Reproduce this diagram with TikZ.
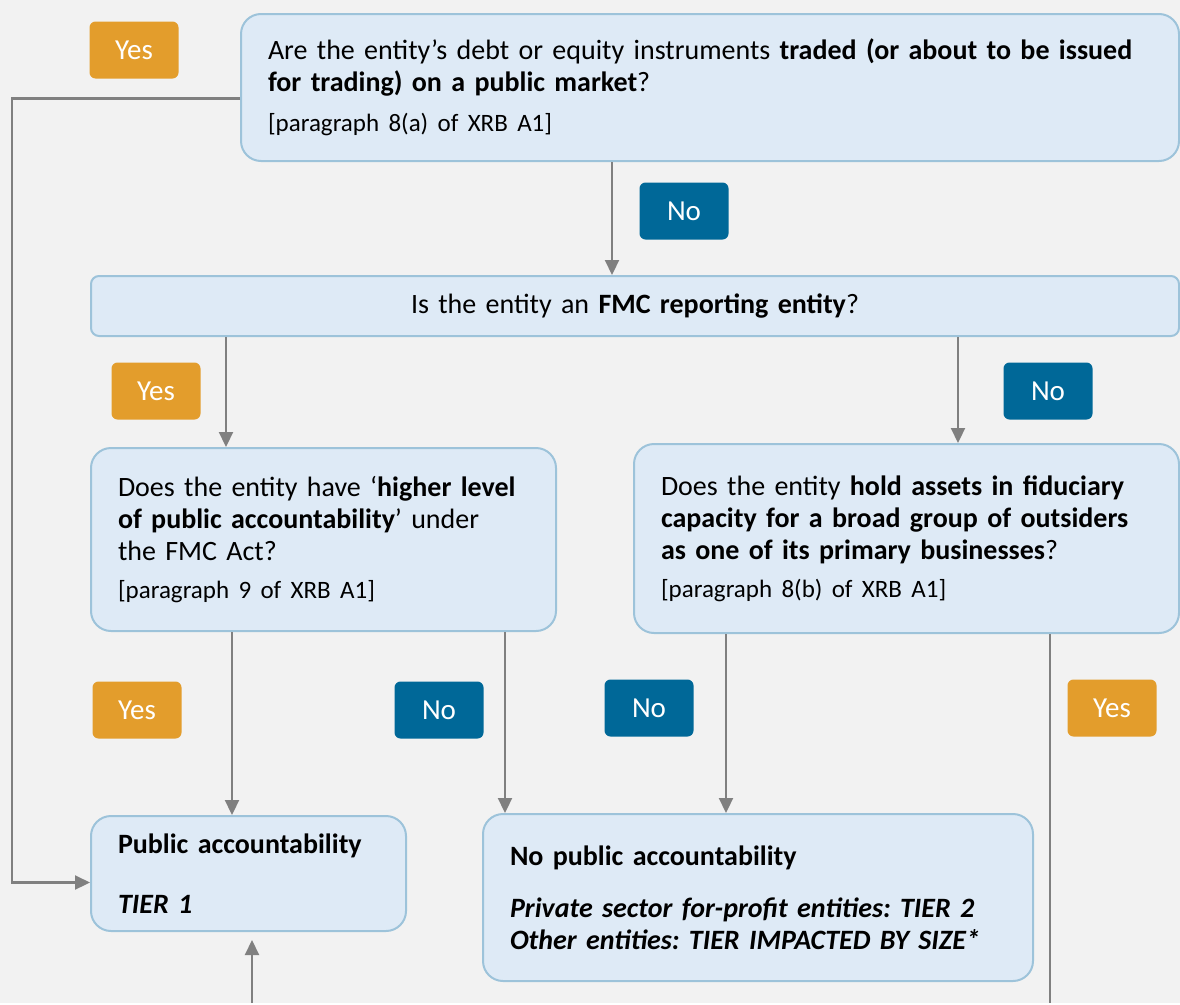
\documentclass[tikz,border=0pt]{standalone}
\usepackage{fontspec}
\setmainfont{Carlito}
\usetikzlibrary{arrows.meta}

\definecolor{boxfill}{HTML}{DEEAF6}
\definecolor{boxline}{HTML}{9DC3DA}
\definecolor{yescol}{HTML}{E39D2C}
\definecolor{nocol}{HTML}{006898}
\definecolor{linkcol}{HTML}{808080}
\definecolor{backcol}{HTML}{F2F2F2}
\newcommand\pararef[1]{\mbox{\fontsize{25}{29}\selectfont #1}}

\begin{document}
\frenchspacing
\begin{tikzpicture}[x=1pt, y=-1pt,
  qbox/.style={draw=boxline, fill=boxfill, line width=2pt, rounded corners=20pt,
    anchor=north west, align=left, inner xsep=27pt, inner ysep=0pt,
    font=\fontsize{28}{32}\selectfont},
  badge/.style={fill=#1, text=white, rounded corners=6pt, minimum width=89pt,
    minimum height=57pt, inner sep=0pt, font=\fontsize{29}{32}\selectfont},
  link/.style={draw=linkcol, line width=2.2pt, -{Triangle[length=15pt,width=14pt]}},
  rail/.style={draw=linkcol, line width=2.2pt}]
  \fill[backcol] (0,0) rectangle (1180,1003);

  % questions
  \node[qbox, text width=884pt, minimum height=147pt] (traded) at (240,13)
    {Are the entity’s debt or equity instruments \textbf{traded (or about to be issued}\\
     \textbf{for trading) on a public market}?\\[8pt]
     \pararef{[paragraph 8(a) of XRB A1]}};
  \node[qbox, rounded corners=8pt, align=center, text width=1034pt, minimum height=60pt] (fmc) at (90,275)
    {Is the entity an \textbf{FMC reporting entity}?};
  \node[qbox, text width=411pt, minimum height=183pt] (higher) at (90,447)
    {Does the entity have ‘\textbf{higher level}\\
     \textbf{of public accountability}’ under\\
     the FMC Act?\\[6pt]
     \pararef{[paragraph 9 of XRB A1]}};
  \node[qbox, text width=491pt, minimum height=189pt] (fidu) at (633,443)
    {Does the entity \textbf{hold assets in fiduciary}\\
     \textbf{capacity for a broad group of outsiders}\\
     \textbf{as one of its primary businesses}?\\[6pt]
     \pararef{[paragraph 8(b) of XRB A1]}};

  % outcomes
  \node[qbox, text width=261pt, minimum height=115pt] (tier1) at (90,815)
    {\textbf{Public accountability}\\[28pt]
     \mbox{\textbf{\textit{TIER 1}}}};
  \node[qbox, text width=496pt, minimum height=167pt] (nopa) at (482,813)
    {\textbf{No public accountability}\\[20pt]
     \textbf{\textit{Private sector for-profit entities: TIER 2}}\\
     \mbox{\textbf{\textit{Other entities: TIER IMPACTED BY SIZE*}}}};

  % columns of the connectors
  \coordinate (c1) at (612,0);
  \coordinate (c2) at (226,0);
  \coordinate (c3) at (958,0);
  \coordinate (c4) at (232,0);
  \coordinate (c5) at (505,0);
  \coordinate (c6) at (726,0);
  \coordinate (leftrun) at (12,0);
  \coordinate (inlet) at (252,1003);
  \coordinate (outlet) at (1050,1003);
  \coordinate (start) at ([yshift=-11pt]traded.west);

  \draw[link] (traded.south -| c1) -- (fmc.north -| c1);
  \draw[link] (fmc.south -| c2) -- (higher.north -| c2);
  \draw[link] (fmc.south -| c3) -- (fidu.north -| c3);
  \draw[link] (higher.south -| c4) -- (tier1.north -| c4);
  \draw[link] (higher.south -| c5) -- (nopa.north -| c5);
  \draw[link] (fidu.south -| c6) -- (nopa.north -| c6);
  \draw[link] (start) -- (start -| leftrun) |- ([yshift=-9pt]tier1.west);
  \draw[link] (inlet) -- ([yshift=-8pt]tier1.south -| inlet);
  \draw[rail] (fidu.south -| outlet) -- (outlet);

  % yes / no labels
  \foreach \n/\x/\y/\col/\word in {a/134/50/yescol/Yes, b/684/211/nocol/No,
      c/156/391/yescol/Yes, d/1048/391/nocol/No, e/137/710/yescol/Yes,
      f/439/710/nocol/No, g/649/708/nocol/No, h/1112/708/yescol/Yes} {
    \node[badge=\col] (badge\n) at (\x,\y) {\word};
  }
\end{tikzpicture}
\end{document}
